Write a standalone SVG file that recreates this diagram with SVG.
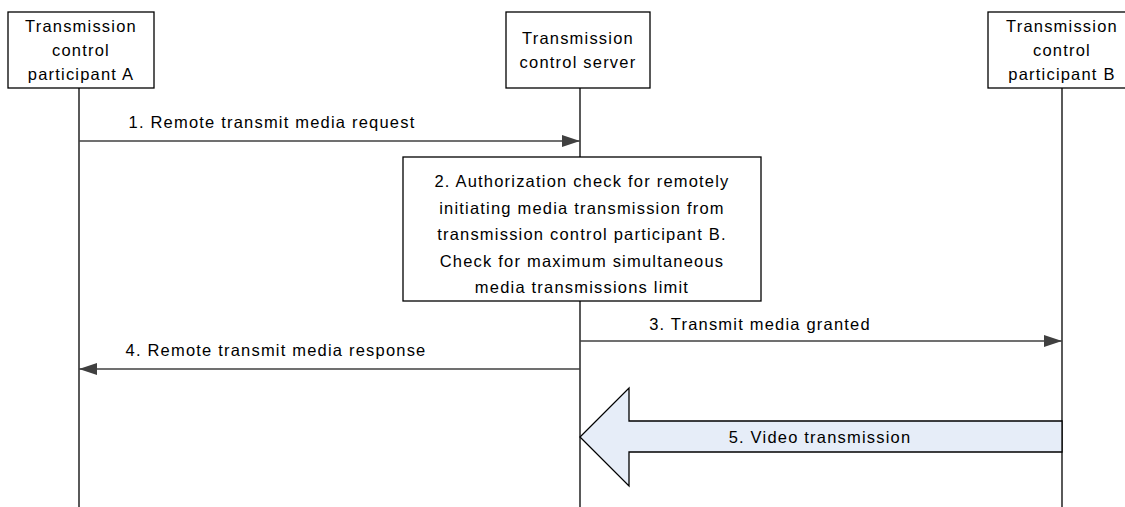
<svg xmlns="http://www.w3.org/2000/svg" width="1125" height="507" viewBox="0 0 1125 507">
<style>
.box{fill:#fff;stroke:#000;stroke-width:1.3}
.life{stroke:#000;stroke-width:1.3;fill:none}
.msg{stroke:#404040;stroke-width:1.3;fill:none}
text{font-family:"Liberation Sans",Arial,sans-serif;font-size:16.5px;fill:#000;letter-spacing:1.2px}
.c{text-anchor:middle}
</style>
<defs>
<marker id="ah" markerWidth="18" markerHeight="12" refX="18" refY="6" orient="auto" markerUnits="userSpaceOnUse">
<path d="M0,0 L18,6 L0,12 Z" fill="#404040"/>
</marker>
</defs>
<g id="lifelines">
<line class="life" x1="79" y1="88" x2="79" y2="507"/>
<line class="life" x1="580" y1="88" x2="580" y2="507"/>
<line class="life" x1="1062" y1="88" x2="1062" y2="507"/>
</g>
<g id="participantA">
<rect class="box" x="8" y="12" width="146" height="76"/>
<text class="c" x="81" y="32">Transmission</text>
<text class="c" x="81" y="56">control</text>
<text class="c" x="81" y="80">participant A</text>
</g>
<g id="server">
<rect class="box" x="506" y="12" width="144" height="76"/>
<text class="c" x="578" y="44">Transmission</text>
<text class="c" x="578" y="68">control server</text>
</g>
<g id="participantB">
<rect class="box" x="988" y="12" width="150" height="76"/>
<text class="c" x="1062" y="32">Transmission</text>
<text class="c" x="1062" y="56">control</text>
<text class="c" x="1062" y="80">participant B</text>
</g>
<g id="check">
<rect class="box" x="403" y="157" width="358" height="144"/>
<text class="c" x="582" y="187">2. Authorization check for remotely</text>
<text class="c" x="582" y="214">initiating media transmission from</text>
<text class="c" x="582" y="240">transmission control participant B.</text>
<text class="c" x="582" y="267">Check for maximum simultaneous</text>
<text class="c" x="582" y="293">media transmissions limit</text>
</g>
<g id="connectors">
<line class="msg" x1="79" y1="141" x2="580" y2="141" marker-end="url(#ah)"/>
<text class="c" x="272" y="128">1. Remote transmit media request</text>
<line class="msg" x1="580" y1="341" x2="1062" y2="341" marker-end="url(#ah)"/>
<text class="c" x="760" y="330">3. Transmit media granted</text>
<line class="msg" x1="580" y1="369" x2="79" y2="369" marker-end="url(#ah)"/>
<text class="c" x="276" y="356">4. Remote transmit media response</text>
<path d="M1062,421 L629,421 L629,388 L580,437 L629,486 L629,452 L1062,452 Z" fill="#e6edf8" stroke="#000" stroke-width="1.3"/>
<text class="c" x="820" y="443">5. Video transmission</text>
</g>
</svg>
